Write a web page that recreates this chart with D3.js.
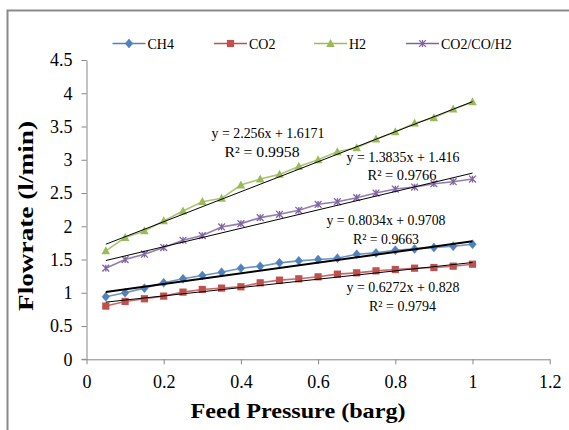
<!DOCTYPE html>
<html><head><meta charset="utf-8">
<script src="https://cdn.jsdelivr.net/npm/d3@7"></script>
<style>body{margin:0;background:#fff}svg{display:block}</style>
</head><body>
<svg id="c" width="569" height="430"></svg>
<script>
const pressure = [0.05,0.1,0.15,0.2,0.25,0.3,0.35,0.4,0.45,0.5,0.55,0.6,0.65,0.7,0.75,0.8,0.85,0.9,0.95,1.0];
const ch4 = [0.94,1.00,1.07,1.15,1.21,1.26,1.31,1.37,1.40,1.45,1.48,1.50,1.52,1.58,1.60,1.64,1.66,1.68,1.70,1.73];
const co2 = [0.80,0.87,0.91,0.95,1.01,1.05,1.07,1.09,1.15,1.19,1.21,1.24,1.28,1.30,1.33,1.35,1.37,1.38,1.40,1.43];
const h2 = [1.63,1.83,1.93,2.08,2.23,2.37,2.42,2.62,2.71,2.78,2.90,3.00,3.12,3.18,3.31,3.42,3.55,3.63,3.76,3.87];
const mix = [1.37,1.50,1.58,1.68,1.79,1.86,1.99,2.04,2.13,2.18,2.24,2.33,2.37,2.43,2.50,2.56,2.59,2.64,2.67,2.71];
const seriesNames = ["CH4","CO2","H2","CO2/CO/H2"];
const slopes = [0.8034,0.6272,2.256,1.3835];
const intercepts = [0.9708,0.828,1.6171,1.416];
const eqLabels = ["y = 0.8034x + 0.9708","y = 0.6272x + 0.828","y = 2.256x + 1.6171","y = 1.3835x + 1.416"];
const r2Labels = ["R\u00B2 = 0.9663","R\u00B2 = 0.9794","R\u00B2 = 0.9958","R\u00B2 = 0.9766"];
const xTicks = [0,0.2,0.4,0.6,0.8,1,1.2];
const yTicks = [0,0.5,1,1.5,2,2.5,3,3.5,4,4.5];

const colors = ["#4F81BD","#C0504D","#9BBB59","#8064A2"];
const markers = ["diamond","square","triangle","star"];
const values = [ch4, co2, h2, mix];
const FONT = "'Liberation Serif','Times New Roman',serif";

const svg = d3.select("#c");
svg.append("rect").attr("x",7.5).attr("y",10.5).attr("width",620).attr("height",450)
  .attr("fill","#fff").attr("stroke","#8a8a8a").attr("stroke-width",2);

const x = d3.scaleLinear().domain([0,1.2]).range([86.5,549.7]);
const y = d3.scaleLinear().domain([0,4.5]).range([359.3,60]);

// axes
const gx = svg.append("g").attr("transform",`translate(0,${y(0)})`)
  .call(d3.axisBottom(x).tickValues(xTicks).tickFormat(d3.format("")).tickSize(5).tickSizeOuter(0).tickPadding(11));
const gy = svg.append("g").attr("transform",`translate(${x(0)},0)`)
  .call(d3.axisLeft(y).tickValues(yTicks).tickFormat(d3.format("")).tickSize(5).tickSizeOuter(0).tickPadding(9));
[gx,gy].forEach(g=>{
  g.select(".domain").attr("stroke","#868686").attr("stroke-width",1);
  g.selectAll(".tick line").attr("stroke","#868686");
  g.selectAll("text").attr("font-family",FONT).attr("font-size",18).attr("fill","#000");
});
// small left extension of origin tick on x-axis
svg.append("line").attr("x1",x(0)-5).attr("x2",x(0)).attr("y1",y(0)).attr("y2",y(0)).attr("stroke","#868686");

// axis titles
svg.append("text").attr("x",298).attr("y",418).attr("text-anchor","middle")
  .attr("font-family",FONT).attr("font-weight","bold").attr("font-size",22)
  .attr("textLength",215).attr("lengthAdjust","spacingAndGlyphs")
  .text("Feed Pressure (barg)");
svg.append("text").attr("transform","translate(33,216) rotate(-90)").attr("text-anchor","middle")
  .attr("font-family",FONT).attr("font-weight","bold").attr("font-size",21)
  .attr("textLength",190).attr("lengthAdjust","spacingAndGlyphs")
  .text("Flowrate (l/min)");

function drawMarker(g, type, cx, cy, color, s){
  if(type==="diamond"){
    g.append("path").attr("d",`M${cx},${cy-4.5}L${cx+3.8},${cy}L${cx},${cy+4.5}L${cx-3.8},${cy}Z`).attr("fill",color).attr("stroke",color).attr("stroke-width",0.5);
  } else if(type==="square"){
    g.append("rect").attr("x",cx-3.6).attr("y",cy-3.6).attr("width",7.2).attr("height",7.2).attr("fill",color);
  } else if(type==="triangle"){
    g.append("path").attr("d",`M${cx},${cy-4.6}L${cx+4.3},${cy+3.4}L${cx-4.3},${cy+3.4}Z`).attr("fill",color);
  } else {
    const r=3.4;
    g.append("path").attr("d",`M${cx-r},${cy-r}L${cx+r},${cy+r}M${cx-r},${cy+r}L${cx+r},${cy-r}M${cx},${cy-r}L${cx},${cy+r}`)
      .attr("stroke",color).attr("stroke-width",1.3).attr("fill","none");
  }
}

const line = d3.line().x(d=>x(d[0])).y(d=>y(d[1]));
values.forEach((vals,i)=>{
  const pts = pressure.map((p,j)=>[p,vals[j]]);
  svg.append("path").attr("d",line(pts)).attr("fill","none").attr("stroke",colors[i]).attr("stroke-width",1.6).attr("stroke-opacity",0.85);
  const g = svg.append("g");
  pts.forEach(p=>drawMarker(g, markers[i], x(p[0]), y(p[1]), colors[i]));
});
// trendlines
values.forEach((vals,i)=>{
  const x0 = pressure[0], x1 = pressure[pressure.length-1];
  svg.append("line").attr("x1",x(x0)).attr("x2",x(x1))
    .attr("y1",y(slopes[i]*x0+intercepts[i])).attr("y2",y(slopes[i]*x1+intercepts[i]))
    .attr("stroke","#000").attr("stroke-width", i===0?2:1);
});

// equation labels: [eqCenterX, eqY, r2CenterX, r2Y, eqWidth, r2Width]
const eqPos = [[386,225,386,244,119,66],[403,291.5,402.5,310.5,113,67],[268,138,262,157,113,75],[403,161.5,402,180,113,69]];
eqPos.forEach((p,i)=>{
  svg.append("text").attr("x",p[0]).attr("y",p[1]).attr("text-anchor","middle")
    .attr("font-family",FONT).attr("font-size",15).attr("textLength",p[4]).attr("lengthAdjust","spacingAndGlyphs").text(eqLabels[i]);
  svg.append("text").attr("x",p[2]).attr("y",p[3]).attr("text-anchor","middle")
    .attr("font-family",FONT).attr("font-size",15).attr("textLength",p[5]).attr("lengthAdjust","spacingAndGlyphs").text(r2Labels[i]);
});

// legend
const legX = [112.5,214,314,406];
const leg = svg.append("g");
seriesNames.forEach((n,i)=>{
  const lx = legX[i], ly = 43.5;
  leg.append("line").attr("x1",lx).attr("x2",lx+33).attr("y1",ly).attr("y2",ly).attr("stroke",colors[i]).attr("stroke-width",1.6);
  drawMarker(leg, markers[i], lx+16.5, ly, colors[i]);
  leg.append("text").attr("x",lx+35).attr("y",ly+5).attr("font-family",FONT).attr("font-size",14).text(n);
});
</script>
</body></html>
